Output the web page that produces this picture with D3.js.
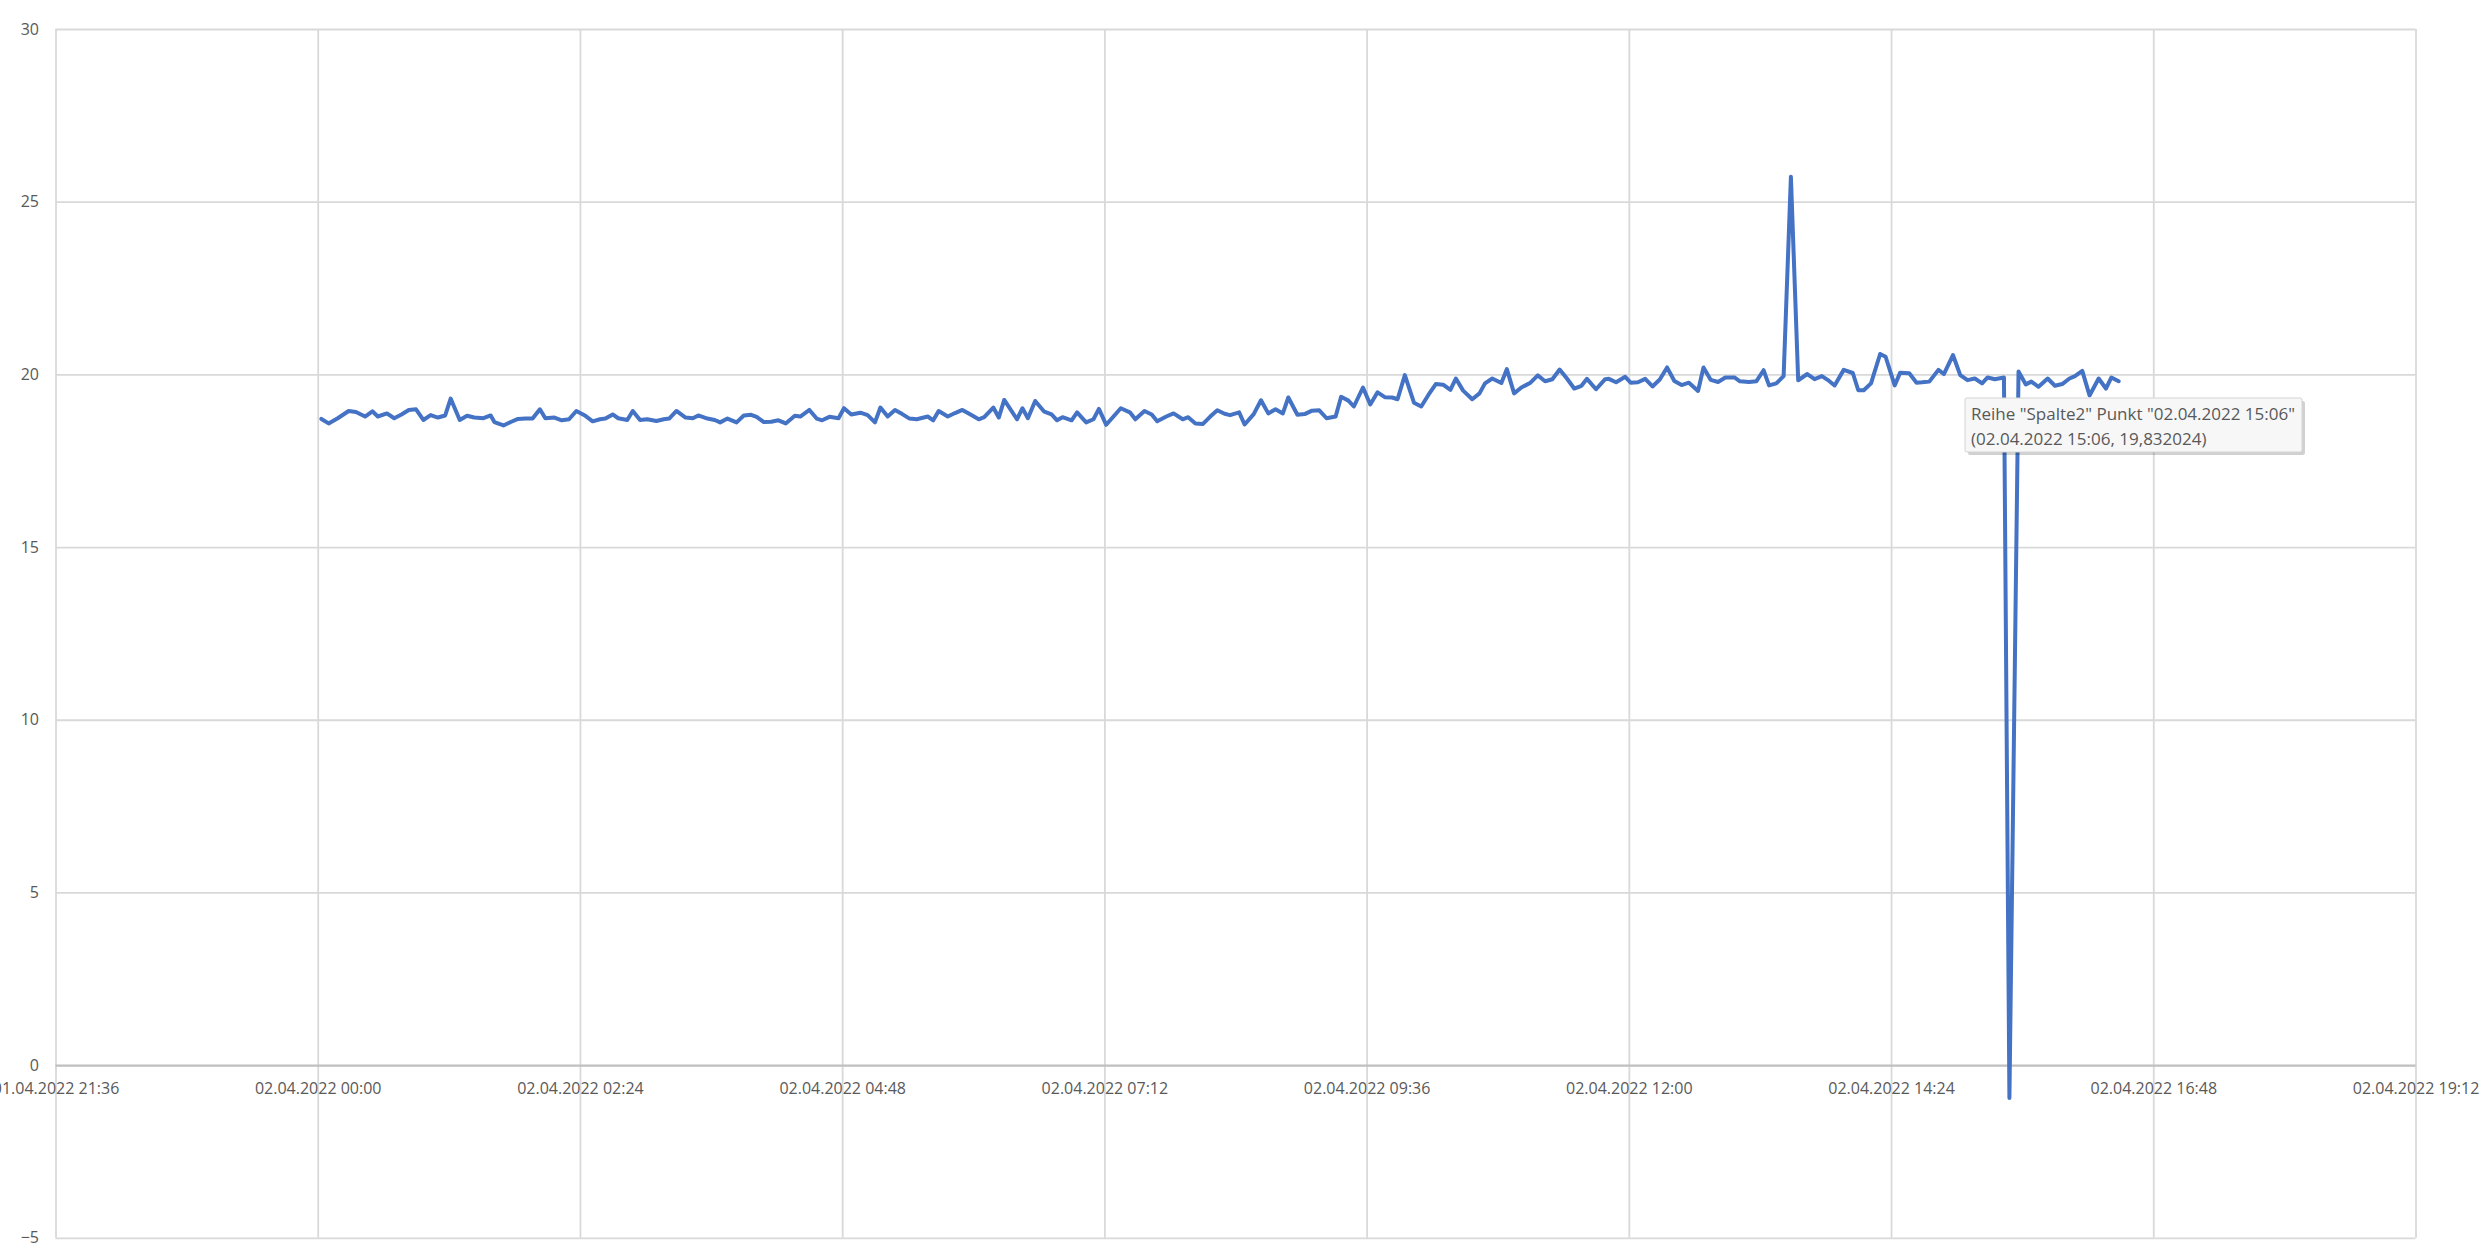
<!DOCTYPE html>
<html>
<head>
<meta charset="utf-8">
<script src="https://cdn.jsdelivr.net/npm/d3@7"></script>
<style>
	body { margin: 0; background: #ffffff; }
	svg { display: block; }
	text { font-family: "Open Sans", "Noto Sans", sans-serif; fill: #595959; }
</style>
</head>
<body>
<svg id="chart" width="2487" height="1249"></svg>
<script>
// readings of series "Spalte2", all on 02.04.2022
var DAY = "02.04.2022";

var times = [
	"00:02","00:06","00:11","00:17","00:21","00:26","00:30","00:33","00:38","00:42",
	"00:46","00:50","00:54","00:58","01:02","01:06","01:10","01:13","01:18","01:22",
	"01:26","01:31","01:35","01:37","01:42","01:46","01:50","01:54","01:58","02:02",
	"02:05","02:10","02:14","02:18","02:22","02:27","02:31","02:35","02:38","02:42",
	"02:45","02:50","02:53","02:57","03:01","03:06","03:10","03:13","03:17","03:22",
	"03:26","03:29","03:34","03:38","03:41","03:45","03:50","03:54","03:58","04:01",
	"04:05","04:09","04:13","04:17","04:22","04:25","04:30","04:34","04:37","04:41",
	"04:46","04:49","04:53","04:58","05:02","05:06","05:09","05:13","05:17","05:21",
	"05:25","05:29","05:35","05:38","05:41","05:46","05:50","05:54","05:58","06:03",
	"06:06","06:11","06:14","06:17","06:24","06:27","06:30","06:34","06:39","06:43",
	"06:46","06:49","06:54","06:57","07:02","07:06","07:09","07:13","07:17","07:21",
	"07:26","07:29","07:34","07:38","07:41","07:46","07:50","07:55","07:58","08:02",
	"08:06","08:10","08:14","08:18","08:21","08:26","08:29","08:34","08:38","08:42",
	"08:46","08:50","08:53","08:58","09:02","09:06","09:10","09:14","09:19","09:22",
	"09:26","09:29","09:34","09:38","09:42","09:46","09:50","09:53","09:57","10:02",
	"10:06","10:10","10:14","10:18","10:22","10:25","10:29","10:34","10:38","10:41",
	"10:45","10:50","10:53","10:57","11:01","11:06","11:10","11:14","11:18","11:22",
	"11:26","11:30","11:34","11:37","11:42","11:47","11:49","11:53","11:58","12:01",
	"12:05","12:09","12:13","12:17","12:21","12:25","12:29","12:33","12:38","12:41",
	"12:45","12:49","12:53","12:58","13:01","13:06","13:10","13:14","13:17","13:21",
	"13:25","13:29","13:33","13:38","13:42","13:46","13:50","13:53","13:58","14:03",
	"14:06","14:09","14:13","14:18","14:21","14:26","14:29","14:34","14:38","14:41",
	"14:45","14:50","14:53","14:58","15:02","15:06","15:10","15:14","15:17","15:21",
	"15:26","15:29","15:34","15:38","15:41","15:45","15:50","15:54","15:58","16:02",
	"16:05","16:09","16:13","16:18","16:22","16:25","16:29"
];

var values = [
	18.71,18.58,18.73,18.94,18.91,18.78,18.93,18.78,18.87,18.73,
	18.84,18.97,18.99,18.68,18.82,18.75,18.81,19.30,18.68,18.80,
	18.75,18.73,18.81,18.62,18.52,18.62,18.71,18.72,18.72,18.99,
	18.73,18.75,18.67,18.70,18.94,18.80,18.64,18.70,18.72,18.84,
	18.73,18.68,18.94,18.68,18.70,18.65,18.70,18.72,18.94,18.75,
	18.73,18.81,18.72,18.68,18.61,18.72,18.61,18.81,18.83,18.77,
	18.62,18.63,18.67,18.58,18.80,18.78,18.97,18.72,18.67,18.77,
	18.73,19.02,18.84,18.89,18.82,18.61,19.04,18.78,18.97,18.85,
	18.72,18.70,18.78,18.67,18.94,18.78,18.88,18.97,18.85,18.70,
	18.76,19.04,18.75,19.26,18.70,19.02,18.73,19.23,18.92,18.84,
	18.67,18.76,18.67,18.90,18.61,18.70,19.00,18.54,18.78,19.02,
	18.90,18.70,18.94,18.84,18.64,18.78,18.87,18.70,18.76,18.58,
	18.56,18.77,18.96,18.86,18.82,18.90,18.55,18.85,19.25,18.87,
	18.99,18.87,19.33,18.83,18.85,18.95,18.96,18.73,18.78,19.35,
	19.24,19.07,19.62,19.13,19.48,19.34,19.33,19.28,19.98,19.18,
	19.07,19.41,19.72,19.70,19.55,19.88,19.53,19.28,19.45,19.74,
	19.88,19.75,20.15,19.45,19.62,19.76,19.97,19.80,19.86,20.14,
	19.88,19.59,19.67,19.87,19.57,19.86,19.87,19.77,19.93,19.76,
	19.77,19.87,19.65,19.85,20.20,19.81,19.69,19.76,19.52,20.20,
	19.84,19.78,19.91,19.91,19.80,19.78,19.80,20.12,19.68,19.74,
	19.95,25.72,19.83,20.01,19.86,19.95,19.81,19.68,20.13,20.04,
	19.54,19.54,19.74,20.59,20.51,19.68,20.05,20.03,19.76,19.77,
	19.79,20.13,20.01,20.56,19.98,19.832024,19.88,19.74,19.91,19.86,
	19.91,-0.95,20.08,19.71,19.79,19.64,19.88,19.67,19.72,19.88,
	19.95,20.10,19.39,19.88,19.59,19.91,19.80
];

var xTickLabels = [
	"01.04.2022 21:36","02.04.2022 00:00","02.04.2022 02:24","02.04.2022 04:48",
	"02.04.2022 07:12","02.04.2022 09:36","02.04.2022 12:00","02.04.2022 14:24",
	"02.04.2022 16:48","02.04.2022 19:12"
];
var yTicks = [-5, 0, 5, 10, 15, 20, 25, 30];

var tooltipLines = [
	"Reihe \"Spalte2\" Punkt \"02.04.2022 15:06\"",
	"(02.04.2022 15:06, 19,832024)"
];

var parseTime = d3.timeParse("%d.%m.%Y %H:%M");
var formatTime = d3.timeFormat("%d.%m.%Y %H:%M");

var data = times.map(function(t, i) {
	return { t: parseTime(DAY + " " + t), v: values[i] };
});
var xTickDates = xTickLabels.map(parseTime);

var plot = { left: 55.5, right: 2415.5, top: 29, bottom: 1237.8 };

var x = d3.scaleTime()
	.domain([xTickDates[0], xTickDates[xTickDates.length - 1]])
	.range([plot.left, plot.right]);

var y = d3.scaleLinear()
	.domain([-5, 30])
	.range([plot.bottom, plot.top]);

var svg = d3.select("#chart");

// vertical gridlines
svg.append("g")
	.attr("class", "xGrid")
	.attr("transform", "translate(0," + plot.bottom + ")")
	.call(d3.axisBottom(x).tickValues(xTickDates).tickSize(-(plot.bottom - plot.top)).tickFormat(""))
	.call(function(g) {
		g.select(".domain").remove();
		g.selectAll("line")
			.attr("stroke", "#d9d9d9")
			.attr("stroke-width", 1.8);
	});

// horizontal gridlines + value labels
svg.append("g")
	.attr("class", "yAxis")
	.attr("transform", "translate(" + plot.left + ",0)")
	.call(d3.axisLeft(y).tickValues(yTicks).tickSize(-(plot.right - plot.left)).tickPadding(16.5))
	.call(function(g) {
		g.select(".domain").remove();
		g.selectAll("line")
			.attr("stroke", function(d) { return d === 0 ? "#bfbfbf" : "#d9d9d9"; })
			.attr("stroke-width", function(d) { return d === 0 ? 2.4 : 1.8; });
		g.selectAll("text")
			.attr("font-size", "16px")
			.attr("font-family", null)
			.attr("fill", "#595959");
	});

// date labels under the zero line
svg.append("g")
	.attr("class", "xAxis")
	.attr("transform", "translate(0," + y(0) + ")")
	.call(d3.axisBottom(x).tickValues(xTickDates).tickSize(0).tickPadding(18).tickFormat(formatTime))
	.call(function(g) {
		g.select(".domain").remove();
		g.selectAll("text")
			.attr("font-size", "16px")
			.attr("font-family", null)
			.attr("fill", "#595959");
	});

var line = d3.line()
	.x(function(d) { return x(d.t); })
	.y(function(d) { return y(d.v); });

svg.append("path")
	.datum(data)
	.attr("class", "seriesLine")
	.attr("d", line)
	.attr("fill", "none")
	.attr("stroke", "#4472c4")
	.attr("stroke-width", 4)
	.attr("stroke-linejoin", "round")
	.attr("stroke-linecap", "round");

// hover tooltip as it was captured
var tip = svg.append("g")
	.attr("class", "tooltip")
	.attr("transform", "translate(1965,398)");

tip.append("rect")
	.attr("x", 3)
	.attr("y", 3)
	.attr("width", 337)
	.attr("height", 54)
	.attr("rx", 2)
	.attr("fill", "#000000")
	.attr("opacity", 0.18);

tip.append("rect")
	.attr("width", 337)
	.attr("height", 54)
	.attr("rx", 2)
	.attr("fill", "#f7f7f7")
	.attr("stroke", "#d4d4d4")
	.attr("stroke-width", 1);

tip.selectAll("text.tipLine")
	.data(tooltipLines)
	.enter()
	.append("text")
	.attr("class", "tipLine")
	.attr("x", 6)
	.attr("y", function(d, i) { return 22 + i * 25; })
	.attr("font-size", "17px")
	.text(function(d) { return d; });
</script>
</body>
</html>
